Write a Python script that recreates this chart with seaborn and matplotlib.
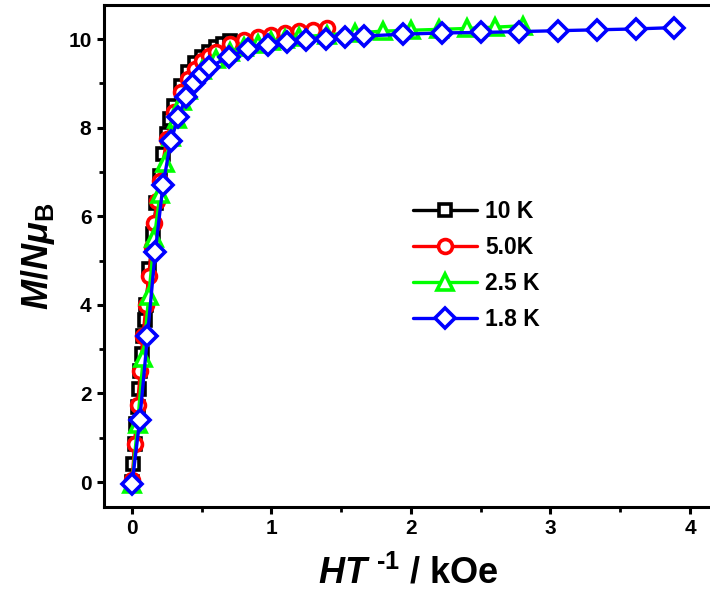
import numpy as np
import pandas as pd
import matplotlib
matplotlib.use("Agg")
import matplotlib.pyplot as plt
from matplotlib.ticker import MultipleLocator
import seaborn as sns

# ---------------- data ----------------
temps = [10.0, 5.0, 2.5, 1.8]
labels = ["10 K", "5.0K", "2.5 K", "1.8 K"]
colors = ["#000000", "#FF0000", "#00FF00", "#0000FF"]
markers = ["s", "o", "^", "D"]
msizes = [9.0, 10.0, 12.0, 10.5]

field_T = [0, 0.1, 0.2, 0.3, 0.4, 0.5, 0.6, 0.7, 0.8, 0.9, 1.0,
           1.25, 1.5, 1.75, 2.0, 2.25, 2.5, 2.75, 3.0,
           3.5, 4.0, 4.5, 5.0, 5.5, 6.0, 6.5, 7.0]

M_10K = [0.0, 0.4, 0.85, 1.3, 1.7, 2.1, 2.5, 2.9, 3.3, 3.65, 4.0,
         4.8, 5.6, 6.3, 6.9, 7.4, 7.85, 8.2, 8.5,
         8.95, 9.25, 9.45, 9.6, 9.72, 9.82, 9.9, 9.96]
M_5K = [0.05, 0.85, 1.75, 2.5, 3.3, 4.0, 4.65, 5.3, 5.85, 6.35, 6.8,
        7.75, 8.35, 8.8, 9.1, 9.32, 9.5, 9.62, 9.72,
        9.88, 9.98, 10.05, 10.1, 10.14, 10.18, 10.21, 10.24]
M_2K5 = [-0.05, 1.3, 2.8, 4.2, 5.5, 6.5, 7.2, 7.8, 8.2, 8.6, 8.85,
         9.3, 9.55, 9.72, 9.83, 9.9, 9.96, 10.0, 10.04,
         10.1, 10.14, 10.18, 10.2, 10.22, 10.24, 10.27, 10.3]
M_1K8 = [-0.05, 1.4, 3.3, 5.2, 6.7, 7.7, 8.25, 8.7, 9.0, 9.22, 9.37,
         9.6, 9.78, 9.86, 9.93, 9.98, 10.01, 10.04, 10.07,
         10.11, 10.14, 10.15, 10.17, 10.19, 10.21, 10.23, 10.26]
M_all = [M_10K, M_5K, M_2K5, M_1K8]

# ---------------- style ----------------
sns.set_style("ticks")
plt.rcParams["font.family"] = ["Liberation Sans", "DejaVu Sans"]
plt.rcParams["font.weight"] = "bold"
plt.rcParams["text.color"] = "black"
plt.rcParams["axes.labelcolor"] = "black"
plt.rcParams["xtick.color"] = "black"
plt.rcParams["ytick.color"] = "black"
plt.rcParams["mathtext.fontset"] = "custom"
plt.rcParams["mathtext.rm"] = "Liberation Sans:bold"
plt.rcParams["mathtext.it"] = "Liberation Sans:italic:bold"
plt.rcParams["mathtext.bf"] = "Liberation Sans:bold"
plt.rcParams["mathtext.sf"] = "Liberation Sans:bold"

fig = plt.figure(figsize=(7.1, 5.99), dpi=100)
W, H = 710, 599
ax = fig.add_axes([104 / W, 1 - 507 / H, (712 - 104) / W, (507 - 5) / H])

for T, lab, c, m, ms, M in zip(temps, labels, colors, markers, msizes, M_all):
    df = pd.DataFrame({"x": np.array(field_T) / T, "y": M})
    sns.lineplot(data=df, x="x", y="y", ax=ax, color=c, marker=m,
                 markersize=ms, markerfacecolor="white", markeredgecolor=c,
                 markeredgewidth=2.6, linewidth=2.4, label=lab,
                 errorbar=None, sort=False)

ax.set_xlim(-0.2007, 4.158)
ax.set_ylim(-0.564, 10.77)
ax.xaxis.set_major_locator(MultipleLocator(1))
ax.xaxis.set_minor_locator(MultipleLocator(0.5))
ax.yaxis.set_major_locator(MultipleLocator(2))
ax.yaxis.set_minor_locator(MultipleLocator(1))

for s in ax.spines.values():
    s.set_linewidth(2.2)
    s.set_color("black")
ax.tick_params(which="major", direction="out", length=5, width=2.2,
               labelsize=15, pad=4, color="black", labelcolor="black")
ax.tick_params(which="minor", direction="out", length=3.5, width=2.0,
               color="black")
for t in ax.get_xticklabels() + ax.get_yticklabels():
    t.set_fontweight("bold")

ax.set_xlabel(r"$HT^{\ \text{-1}}$ / kOe", fontsize=26, fontweight="bold",
              labelpad=12, color="black")
ax.set_ylabel(r"$M/N\mu_{\mathbf{B}}$", fontsize=26, labelpad=8,
              color="black")

leg = ax.legend(loc="center left", bbox_to_anchor=(0.508, 0.481),
                frameon=False, fontsize=16.5, handlelength=2.8,
                handletextpad=0.35, labelspacing=0.58, borderpad=0,
                borderaxespad=0)
for t in leg.get_texts():
    t.set_fontweight("bold")
    t.set_color("black")

fig.savefig("out.png", dpi=100)
